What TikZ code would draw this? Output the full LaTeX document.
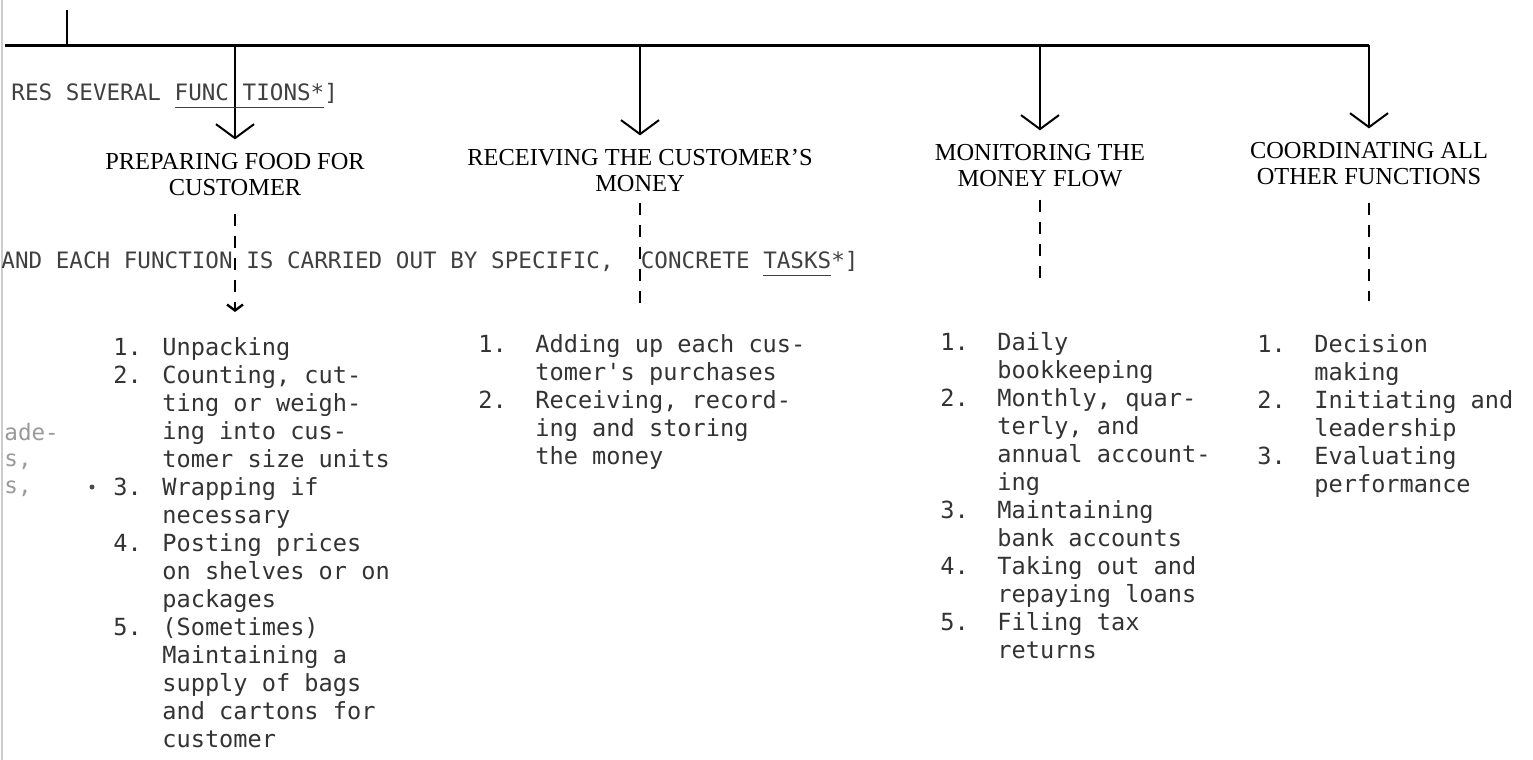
\documentclass[tikz,border=0pt]{standalone}
\usepackage{fontspec}
\setmainfont{Liberation Serif}
\setmonofont{DejaVu Sans Mono}
\usetikzlibrary{arrows.meta}

\begin{document}
\begin{tikzpicture}[x=0.5pt,y=-0.5pt]
\tikzset{function/.style={align=center,inner sep=2pt,font=\fontsize{12.2}{13}\selectfont}}
\tikzset{tasks/.style={anchor=north west,inner sep=0pt,text=black!80,font=\ttfamily\fontsize{11.8}{14}\selectfont}}
\tikzset{typed/.style={anchor=base west,inner sep=0pt,text=black!75,font=\ttfamily\fontsize{11.3}{14}\selectfont}}
\tikzset{branch/.style={line width=1pt,-{Straight Barb[length=7pt,width=19pt,line width=1pt]},shorten >=5pt}}
\tikzset{trail/.style={line width=0.9pt,dash pattern=on 6pt off 5pt}}

\useasboundingbox (0,0) rectangle (1533,760);
\draw[black!20,line width=1pt] (2,0) -- (2,760);

\node[function] (prep) at (235,175) {PREPARING FOOD FOR\\CUSTOMER};
\node[function] (recv) at (640,171) {RECEIVING THE CUSTOMER'S\\MONEY};
\node[function] (monit) at (1040,166) {MONITORING THE\\MONEY FLOW};
\node[function] (coord) at (1369,164) {COORDINATING ALL\\OTHER FUNCTIONS};

\coordinate (rail) at (5,45);
\coordinate (up) at (67,10);
\draw[line width=1.5pt] (rail) -- (coord.north |- rail);
\draw[line width=1pt] (up) -- (up |- rail);

\draw[branch] (prep.north |- rail) -- (prep.north);
\draw[branch] (recv.north |- rail) -- (recv.north);
\draw[branch] (monit.north |- rail) -- (monit.north);
\draw[branch] (coord.north |- rail) -- (coord.north);

\node[typed] (several) at (11,100) {RES SEVERAL \underline{FUNC TIONS*\vphantom{p}}]};
\node[typed] (each) at (1,268) {AND EACH FUNCTION IS CARRIED OUT BY SPECIFIC, \ CONCRETE \underline{TASKS\vphantom{p}}*]};

\node[tasks] (prepjobs) at (113,335) {\begin{tabular}{@{}l@{\hspace{10.3pt}}l@{}}
1. & Unpacking\\
2. & Counting, cut-\\
   & ting or weigh-\\
   & ing into cus-\\
   & tomer size units\\
3. & Wrapping if\\
   & necessary\\
4. & Posting prices\\
   & on shelves or on\\
   & packages\\
5. & (Sometimes)\\
   & Maintaining a\\
   & supply of bags\\
   & and cartons for\\
   & customer
\end{tabular}};

\node[tasks] (recvjobs) at (478,332) {\begin{tabular}{@{}l@{\hspace{14.3pt}}l@{}}
1. & Adding up each cus-\\
   & tomer's purchases\\
2. & Receiving, record-\\
   & ing and storing\\
   & the money
\end{tabular}};

\node[tasks] (monitjobs) at (940,330) {\begin{tabular}{@{}l@{\hspace{14.3pt}}l@{}}
1. & Daily\\
   & bookkeeping\\
2. & Monthly, quar-\\
   & terly, and\\
   & annual account-\\
   & ing\\
3. & Maintaining\\
   & bank accounts\\
4. & Taking out and\\
   & repaying loans\\
5. & Filing tax\\
   & returns
\end{tabular}};

\node[tasks] (coordjobs) at (1257,332) {\begin{tabular}{@{}l@{\hspace{14.3pt}}l@{}}
1. & Decision\\
   & making\\
2. & Initiating and\\
   & leadership\\
3. & Evaluating\\
   & performance
\end{tabular}};

\draw[trail,-{Straight Barb[length=3pt,width=8pt,line width=1.2pt]},shorten <=6.5pt,shorten >=11.5pt] (prep.south) -- (prep.south |- prepjobs.north);
\draw[trail,shorten <=3pt,shorten >=11pt] (recv.south) -- (recv.south |- recvjobs.north);
\draw[trail,shorten <=4pt,shorten >=23.5pt] (monit.south) -- (monit.south |- monitjobs.north);
\draw[trail,shorten <=6.5pt,shorten >=15.5pt] (coord.south) -- (coord.south |- coordjobs.north);

\node[typed,text=black!40] (frag1) at (4,440) {ade-};
\node[typed,text=black!40] (frag2) at (4,466) {s,};
\node[typed,text=black!40] (frag3) at (4,493) {s,};
\fill[black!70] (92,487) circle (2.5);

\end{tikzpicture}
\end{document}
